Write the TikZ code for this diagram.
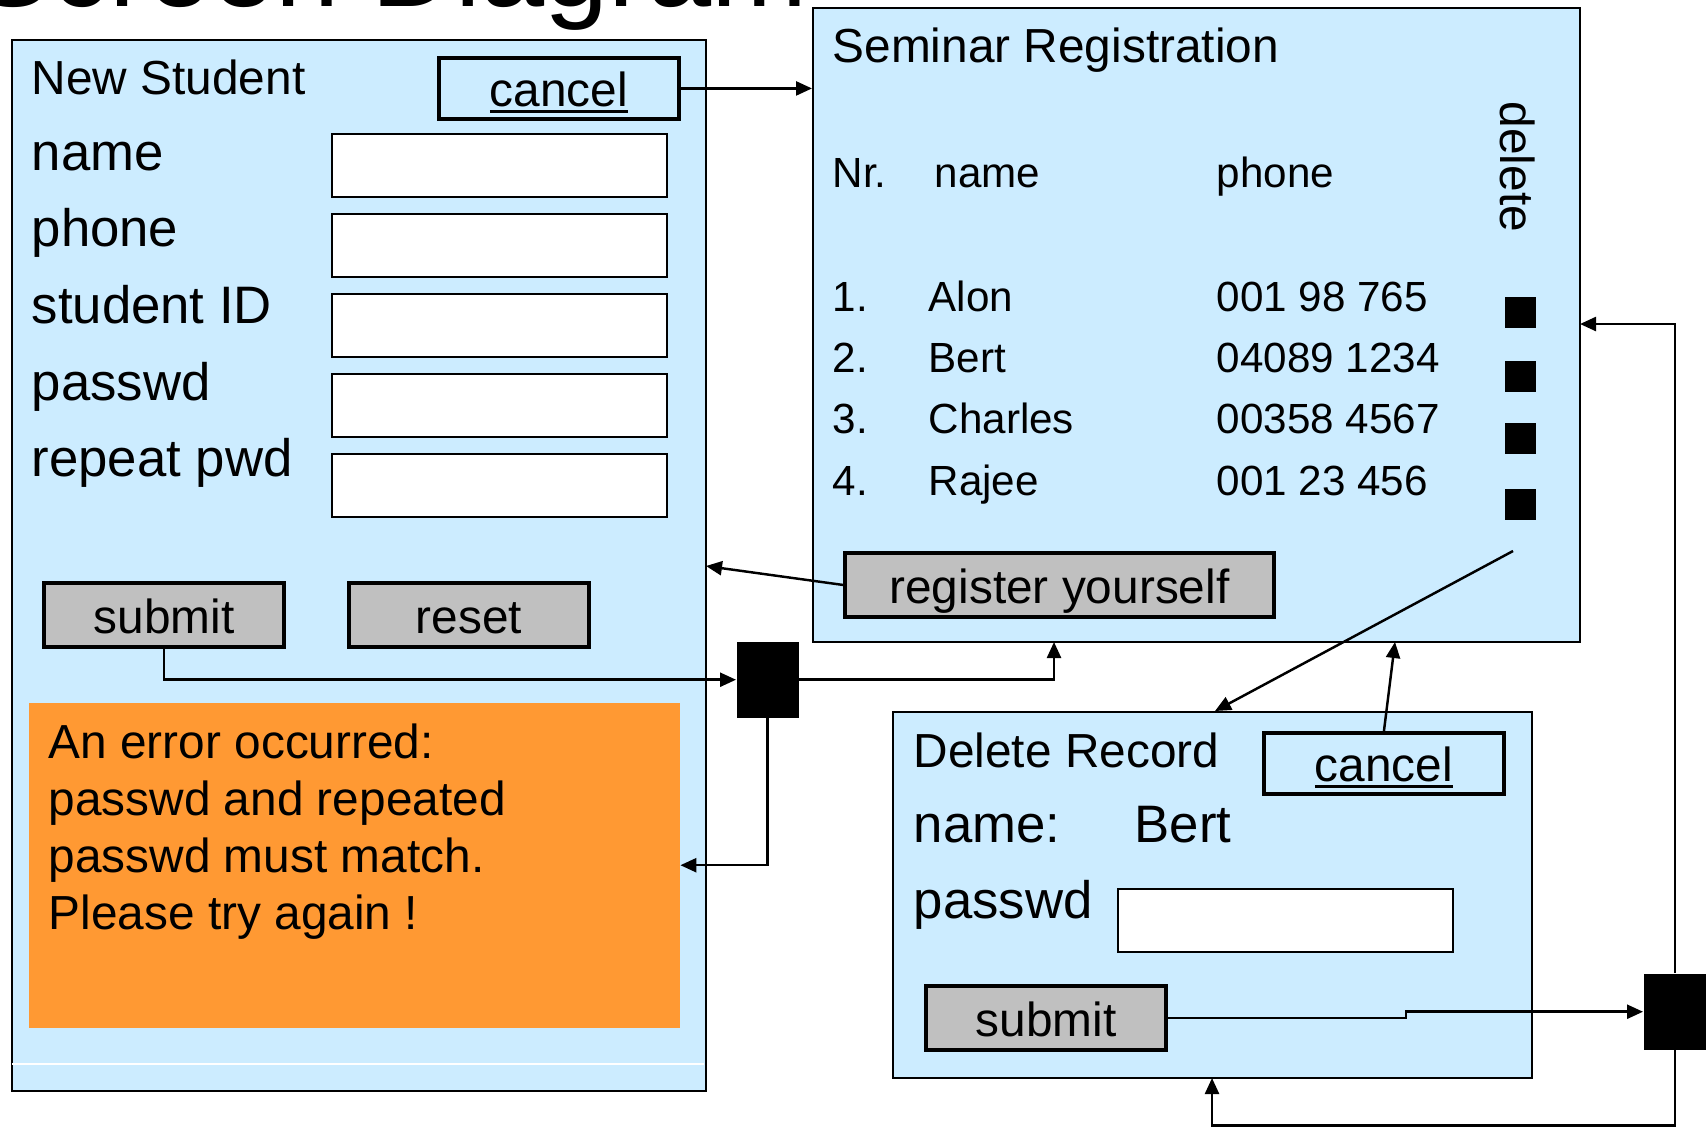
\documentclass[tikz,border=0pt]{standalone}
\usepackage{fontspec}
\setmainfont{Liberation Sans}
\usetikzlibrary{arrows.meta}

\definecolor{formblue}{HTML}{CCECFF}
\definecolor{buttongray}{HTML}{C0C0C0}
\definecolor{errororange}{HTML}{FF9933}

\newcommand{\sdtitle}{\fontsize{32.8}{38}\selectfont}
\newcommand{\sdlabel}{\fontsize{15}{18}\selectfont}
\newcommand{\sdtext}{\fontsize{13.6}{16.2}\selectfont}
\newcommand{\sdtable}{\fontsize{12}{14}\selectfont}

\newsavebox{\linkbox}
\newcommand{\linkword}[1]{\sbox{\linkbox}{#1}\rlap{\rule[-1.8pt]{\wd\linkbox}{0.8pt}}\usebox{\linkbox}}

\begin{document}
\begin{tikzpicture}[x=0.1mm,y=-0.1mm,
	window/.style={draw,fill=formblue,line width=0.55pt,inner sep=0pt,anchor=north west},
	inputfield/.style={draw,fill=white,line width=0.55pt,inner sep=0pt,anchor=north west,minimum width=33.5mm,minimum height=6.3mm},
	button/.style={draw,fill=buttongray,line width=1.1pt,inner sep=0pt,anchor=north west,minimum width=24mm,minimum height=6.4mm,text height=10.5pt,text depth=0pt,font=\sdtext},
	cancelbutton/.style={draw,line width=1.1pt,inner sep=0pt,anchor=north west,minimum width=24mm,minimum height=6.1mm,text height=10.5pt,text depth=0pt,font=\sdtext},
	junction/.style={fill=black,inner sep=0pt,anchor=north west,minimum width=6.2mm,minimum height=7.6mm},
	delmark/.style={fill=black,inner sep=0pt,anchor=north west,minimum size=3.1mm},
	txt/.style={inner sep=0pt,anchor=base west},
	flow/.style={line width=0.7pt,-{Triangle[length=1.6mm,width=1.4mm]}}]
	\useasboundingbox (0,0) rectangle (1708,1127);
	\clip (0,0) rectangle (1708,1127);

	\node[txt,font=\sdtitle] (heading) at (-26,6) {Screen Diagram};

	% new student
	\node[window,minimum width=69.4mm,minimum height=105.1mm] (newstud) at (11,39) {};
	\draw[white,line width=0.5pt] (12,1064) -- (704,1064);
	\node[txt,font=\sdtext] (newtitle) at (31,94) {New Student};
	\node[cancelbutton] (cancelA) at (437,56) {\linkword{cancel}};
	\foreach \lbl [count=\i] in {name,phone,student ID,passwd,repeat pwd} {
		\node[txt,font=\sdlabel] (lbl\i) at (31,{170+(\i-1)*76.7}) {\lbl};
		\node[inputfield] (fld\i) at (331,{133+(\i-1)*80}) {};
	}
	\node[button] (submitA) at (42,581) {submit};
	\node[button] (resetA) at (347,581) {reset};
	\node[fill=errororange,inner sep=0pt,anchor=north west,minimum width=65.1mm,minimum height=32.5mm] (errbox) at (28,702) {};
	\foreach \ln [count=\i] in {An error occurred:,passwd and repeated,passwd must match.,Please try again !}
		\node[txt,font=\sdtext] (err\i) at (48,{758+(\i-1)*57.3}) {\ln};

	% seminar registration
	\node[window,minimum width=76.7mm,minimum height=63.4mm] (semreg) at (812,7) {};
	\node[txt,font=\sdtext] (semtitle) at (832,62) {Seminar Registration};
	\node[txt,font=\sdtable] (hdnr) at (832,187) {Nr.};
	\node[txt,font=\sdtable] (hdname) at (934,187) {name};
	\node[txt,font=\sdtable] (hdphone) at (1216,187) {phone};
	\node[font=\sdtext,inner sep=0pt,rotate=-90,anchor=west] (hddel) at (1518,101) {delete};
	\foreach \y/\nr/\who/\tel [count=\i] in {311/1./Alon/001 98 765,372/2./Bert/04089 1234,433/3./Charles/00358 4567,495/4./Rajee/001 23 456} {
		\node[txt,font=\sdtable] (nr\i) at (832,\y) {\nr};
		\node[txt,font=\sdtable] (who\i) at (928,\y) {\who};
		\node[txt,font=\sdtable] (tel\i) at (1216,\y) {\tel};
	}
	\foreach \y [count=\i] in {296,360,422,488}
		\node[delmark] (mark\i) at (1504,\y) {};
	\node[button,minimum width=42.9mm] (register) at (843,551) {register yourself};

	% delete record
	\node[window,minimum width=63.9mm,minimum height=36.6mm] (delrec) at (892,711) {};
	\node[txt,font=\sdtext] (deltitle) at (913,767) {Delete Record};
	\node[cancelbutton] (cancelB) at (1262,731) {\linkword{cancel}};
	\node[txt,font=\sdlabel] (delname) at (913,842) {name:};
	\node[txt,font=\sdlabel] (delwho) at (1134,842) {Bert};
	\node[txt,font=\sdlabel] (delpw) at (913,918) {passwd};
	\node[inputfield] (delfld) at (1117,888) {};
	\node[button] (submitB) at (924,984) {submit};

	\node[junction] (junA) at (736,641) {};
	\node[junction] (junB) at (1643,973) {};

	\coordinate (regin) at (706,566);
	\coordinate (semin) at (1054,642);
	\coordinate (delpick) at (1513,551);
	\coordinate (delin) at (1215,711);
	\coordinate (semback) at (1395,642);
	\coordinate (semout) at (1580,324);
	\coordinate (delback) at (1212,1078);

	\draw[flow] (cancelA.east) -- (cancelA.east -| semreg.west);
	\draw[flow] (register.west) -- (regin);
	\draw[flow] (submitA.south) |- (junA.west);
	\draw[flow] (junA.east) -| (semin);
	\draw[flow] (junA.south) |- (errbox.east);
	\draw[flow] (delpick) -- (delin);
	\draw[flow] (cancelB.north) -- (semback);
	\draw[flow] (submitB.east) -- ++(238,0) |- (junB.west);
	\draw[flow] (junB.north) |- (semout);
	\draw[flow] (junB.south) -- ++(0,75) -| (delback);
\end{tikzpicture}
\end{document}
